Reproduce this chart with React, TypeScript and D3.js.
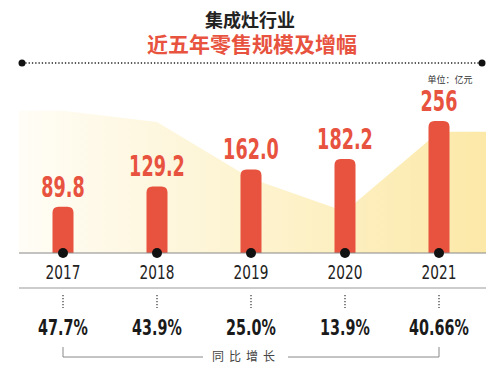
import * as d3 from 'd3';
import { useEffect, useRef } from 'react';

const years = ['2017', '2018', '2019', '2020', '2021'];
const sales = [89.8, 129.2, 162.0, 182.2, 256];
const salesLabels = ['89.8', '129.2', '162.0', '182.2', '256'];
const growth = [47.7, 43.9, 25.0, 13.9, 40.66];
const growthLabels = ['47.7%', '43.9%', '25.0%', '13.9%', '40.66%'];

const RED = '#e8533f';
const NUM_FONT = '"DejaVu Sans Condensed", "DejaVu Sans", sans-serif';
const CJK = '"Noto Sans CJK SC", sans-serif';

export default function App() {
  const svgRef = useRef<SVGSVGElement | null>(null);

  useEffect(() => {
    if (!svgRef.current) return;
    const svg = d3.select(svgRef.current);
    svg.selectAll('*').remove();

    const width = 500;
    const left = 19;
    const right = 486;
    const base = 253;

    // posiciones de las categorias
    const x = d3.scalePoint<string>().domain(years).range([63, 439]);
    const y = d3.scaleLinear().domain([0, 256]).range([base, 121]);
    const yg = d3.scaleLinear().domain([0, 43.9]).range([base, 122]);

    const defs = svg.append('defs');
    const grad = defs.append('linearGradient').attr('id', 'areaGrad')
      .attr('x1', 0).attr('x2', 1).attr('y1', 0).attr('y2', 0);
    grad.append('stop').attr('offset', '0%').attr('stop-color', '#fffdf6');
    grad.append('stop').attr('offset', '45%').attr('stop-color', '#fdf4d3');
    grad.append('stop').attr('offset', '100%').attr('stop-color', '#fce9a8');

    // titulos
    svg.append('text').attr('x', width / 2).attr('y', 27)
      .attr('text-anchor', 'middle').attr('font-family', CJK)
      .attr('font-weight', 'bold').attr('font-size', 18).attr('fill', '#222')
      .text('集成灶行业');
    svg.append('text').attr('x', width / 2 + 2).attr('y', 52)
      .attr('text-anchor', 'middle').attr('font-family', CJK)
      .attr('font-weight', 'bold').attr('font-size', 21).attr('fill', RED)
      .text('近五年零售规模及增幅');

    // linea punteada superior
    svg.append('line').attr('x1', 22).attr('x2', 482).attr('y1', 63).attr('y2', 63)
      .attr('stroke', '#222').attr('stroke-width', 1.3).attr('stroke-dasharray', '1.3,2');
    [22, 482].forEach(cx => {
      svg.append('circle').attr('cx', cx).attr('cy', 63).attr('r', 3.5).attr('fill', '#111');
    });

    svg.append('text').attr('x', 450).attr('y', 83)
      .attr('text-anchor', 'middle').attr('font-family', CJK)
      .attr('font-size', 9).attr('fill', '#333').text('单位：亿元');

    // area de crecimiento
    const pts: [number, number][] = [[left, growth[0]]];
    years.forEach((yr, i) => pts.push([x(yr)!, growth[i]]));
    pts.push([right, growth[growth.length - 1]]);
    const area = d3.area<[number, number]>()
      .x(d => d[0]).y0(base).y1(d => yg(d[1]));
    svg.append('path').attr('d', area(pts)).attr('fill', 'url(#areaGrad)');

    // barras
    const bw = 21;
    svg.append('g').selectAll('path').data(sales).join('path')
      .attr('fill', RED)
      .attr('d', (d, i) => {
        const cx = x(years[i])!;
        const x0 = cx - bw / 2, x1 = cx + bw / 2;
        const top = y(d);
        const r = 6;
        return `M${x0},${base}V${top + r}Q${x0},${top} ${x0 + r},${top}H${x1 - r}Q${x1},${top} ${x1},${top + r}V${base}Z`;
      });

    svg.append('g').selectAll('text').data(salesLabels).join('text')
      .attr('transform', (d, i) => `translate(${x(years[i])},${y(sales[i]) - 10}) scale(0.7,1)`)
      .attr('text-anchor', 'middle').attr('font-family', NUM_FONT)
      .attr('font-weight', 'bold').attr('font-size', 28).attr('fill', RED)
      .text(d => d);

    // ejes
    svg.append('line').attr('x1', left).attr('x2', right).attr('y1', base).attr('y2', base)
      .attr('stroke', '#888').attr('stroke-width', 1);
    svg.append('g').selectAll('circle').data(years).join('circle')
      .attr('cx', d => x(d)!).attr('cy', base).attr('r', 5).attr('fill', '#111');

    svg.append('g').selectAll('text').data(years).join('text')
      .attr('transform', d => `translate(${x(d)},${279}) scale(0.8,1)`)
      .attr('text-anchor', 'middle').attr('font-family', NUM_FONT)
      .attr('font-size', 19).attr('fill', '#222').text(d => d);

    svg.append('line').attr('x1', left).attr('x2', right).attr('y1', 288).attr('y2', 288)
      .attr('stroke', '#999').attr('stroke-width', 1);

    svg.append('g').selectAll('line').data(years).join('line')
      .attr('x1', d => x(d)!).attr('x2', d => x(d)!).attr('y1', 295).attr('y2', 308)
      .attr('stroke', '#333').attr('stroke-width', 1.2).attr('stroke-dasharray', '1.3,1.7');

    svg.append('g').selectAll('text').data(growthLabels).join('text')
      .attr('transform', (d, i) => `translate(${x(years[i])},${335}) scale(0.76,1)`)
      .attr('text-anchor', 'middle').attr('font-family', NUM_FONT)
      .attr('font-weight', 'bold').attr('font-size', 21).attr('fill', '#1a1a1a')
      .text(d => d);

    // corchete "同比增长"
    const bx0 = x(years[0])!, bx1 = x(years[years.length - 1])!;
    const by = 357;
    svg.append('path')
      .attr('d', `M${bx0},347V${by}H203M288,${by}H${bx1}V347`)
      .attr('fill', 'none').attr('stroke', '#888').attr('stroke-width', 1);
    svg.append('text').attr('x', 212).attr('y', 361)
      .attr('font-family', CJK)
      .attr('font-size', 12).attr('fill', '#444').attr('letter-spacing', 5)
      .text('同比增长');
  }, []);

  return (
    <div style={{ position: 'absolute', left: 0, top: 0, width: 500, height: 368, background: '#fff' }}>
      <svg ref={svgRef} width={500} height={368} style={{ display: 'block' }} />
    </div>
  );
}
